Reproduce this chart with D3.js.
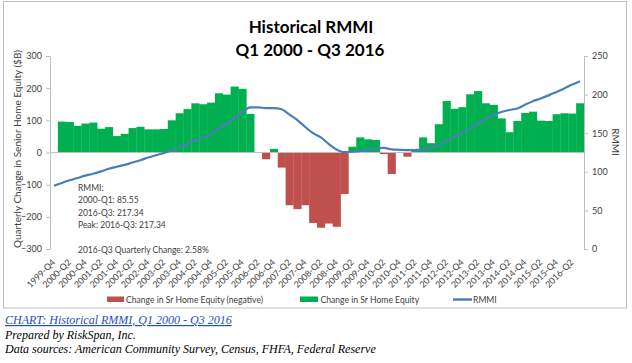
<!DOCTYPE html>
<html>
<head>
<meta charset="utf-8">
<script src="https://cdn.jsdelivr.net/npm/d3@7"></script>
<style>
body { margin: 0; background: #fff; }
svg { display: block; }
</style>
</head>
<body>
<svg id="chart" width="632" height="363"></svg>
<script>
// quarters on the category axis
const quarters = [
    "1999-Q4",
    "2000-Q1", "2000-Q2", "2000-Q3", "2000-Q4",
    "2001-Q1", "2001-Q2", "2001-Q3", "2001-Q4",
    "2002-Q1", "2002-Q2", "2002-Q3", "2002-Q4",
    "2003-Q1", "2003-Q2", "2003-Q3", "2003-Q4",
    "2004-Q1", "2004-Q2", "2004-Q3", "2004-Q4",
    "2005-Q1", "2005-Q2", "2005-Q3", "2005-Q4",
    "2006-Q1", "2006-Q2", "2006-Q3", "2006-Q4",
    "2007-Q1", "2007-Q2", "2007-Q3", "2007-Q4",
    "2008-Q1", "2008-Q2", "2008-Q3", "2008-Q4",
    "2009-Q1", "2009-Q2", "2009-Q3", "2009-Q4",
    "2010-Q1", "2010-Q2", "2010-Q3", "2010-Q4",
    "2011-Q1", "2011-Q2", "2011-Q3", "2011-Q4",
    "2012-Q1", "2012-Q2", "2012-Q3", "2012-Q4",
    "2013-Q1", "2013-Q2", "2013-Q3", "2013-Q4",
    "2014-Q1", "2014-Q2", "2014-Q3", "2014-Q4",
    "2015-Q1", "2015-Q2", "2015-Q3", "2015-Q4",
    "2016-Q1", "2016-Q2", "2016-Q3"
];

// quarterly change in senior home equity, $B (none for the first quarter)
const equityChange = [
    null,
    96, 95, 83, 90,
    93, 74, 79, 51,
    58, 76, 80, 72,
    72, 73, 100, 122,
    135, 153, 150, 155,
    184, 180, 205, 198,
    120, 1, -21, 11,
    -47, -164, -176, -164,
    -219, -234, -221, -231,
    -129, 18, 47, 41,
    39, -5, -67, -1,
    -13, 11, 47, 29,
    88, 160, 136, 141,
    181, 191, 153, 148,
    106, 63, 98, 123,
    127, 99, 98, 119,
    122, 121, 153
];

// RMMI index
const rmmi = [
    82,
    85.55, 89, 92, 95,
    97.5, 100.5, 104, 106.5,
    109, 112, 115, 118.5,
    121.5, 124.5, 128, 132,
    136, 140.5, 144, 149,
    156, 162, 170, 177.5,
    183.5, 183.5, 182.5, 182.5,
    181, 174, 167, 158,
    150, 144.5, 136, 129,
    125.5, 126, 127, 129,
    130.5, 131, 129, 128.5,
    128, 128, 129, 131,
    134.5, 140, 145, 150,
    156.5, 162.5, 168.5, 174,
    177.5, 180, 182, 187,
    191.5, 195, 199, 203.5,
    208, 213, 217.34
];

const leftTicks = [-300, -200, -100, 0, 100, 200, 300];
const rightTicks = [0, 50, 100, 150, 200, 250];
const notes = ["RMMI:", "2000-Q1: 85.55", "2016-Q3: 217.34", "Peak: 2016-Q3: 217.34", "", "2016-Q3 Quarterly Change: 2.58%"];
const footer = [
    "CHART: Historical RMMI, Q1 2000 - Q3 2016",
    "Prepared by RiskSpan, Inc.",
    "Data sources: American Community Survey, Census, FHFA, Federal Reserve"
];

const font = "Lato, 'Open Sans', sans-serif";
const grey = "#bfbfbf";
const textColour = "#404040";
const green = "#00b050";
const red = "#c0504d";
const blue = "#4a7ebb";

// plot area
const plot = {left: 50, right: 584, top: 56, bottom: 249};

const svg = d3.select("#chart");

// outer chart border
svg.append("rect")
    .attr("x", 3.5).attr("y", 1.5)
    .attr("width", 623).attr("height", 306.5)
    .attr("fill", "none")
    .attr("stroke", grey);

const x = d3.scaleBand()
    .domain(quarters)
    .range([plot.left, plot.right])
    .padding(0);

const yLeft = d3.scaleLinear().domain([-300, 300]).range([plot.bottom, plot.top]);
const yRight = d3.scaleLinear().domain([0, 250]).range([plot.bottom, plot.top]);

const barData = quarters.map((q, i) => ({q: q, v: equityChange[i]})).filter(d => d.v !== null);

// bars: green for gains, red for losses
svg.append("g")
    .selectAll("rect")
    .data(barData)
    .enter()
    .append("rect")
    .attr("x", d => x(d.q))
    .attr("width", x.bandwidth() + 0.3)
    .attr("y", d => yLeft(Math.max(0, d.v)))
    .attr("height", d => Math.abs(yLeft(d.v) - yLeft(0)))
    .attr("fill", d => d.v < 0 ? red : green);

// zero line (category axis)
svg.append("line")
    .attr("x1", plot.left).attr("x2", plot.right)
    .attr("y1", yLeft(0)).attr("y2", yLeft(0))
    .attr("stroke", grey);

// left axis
const leftAxis = svg.append("g")
    .attr("transform", `translate(${plot.left},0)`)
    .call(d3.axisLeft(yLeft).tickValues(leftTicks).tickSize(4).tickSizeOuter(0).tickPadding(4));

// right axis
const rightAxis = svg.append("g")
    .attr("transform", `translate(${plot.right},0)`)
    .call(d3.axisRight(yRight).tickValues(rightTicks).tickSize(4).tickSizeOuter(0).tickPadding(4));

[leftAxis, rightAxis].forEach(g => {
    g.select(".domain").attr("stroke", grey);
    g.selectAll(".tick line").attr("stroke", grey);
    g.selectAll(".tick text")
        .attr("fill", textColour)
        .style("font-family", font)
        .style("font-size", "9px");
});

// category labels, every second quarter, rotated
svg.append("g")
    .selectAll("text")
    .data(quarters.filter((q, i) => i % 2 === 0))
    .enter()
    .append("text")
    .attr("transform", d => `translate(${x(d) + x.bandwidth() / 2 + 2},${plot.bottom + 14}) rotate(-45)`)
    .attr("text-anchor", "end")
    .attr("fill", textColour)
    .style("font-family", font)
    .style("font-size", "8.8px")
    .text(d => d);

// RMMI line
const line = d3.line()
    .x((d, i) => x(quarters[i]) + x.bandwidth() / 2)
    .y(d => yRight(d))
    .curve(d3.curveMonotoneX);

svg.append("path")
    .datum(rmmi)
    .attr("d", line)
    .attr("fill", "none")
    .attr("stroke", blue)
    .attr("stroke-width", 2.2);

// titles
svg.append("text")
    .attr("x", 311).attr("y", 33)
    .attr("text-anchor", "middle")
    .style("font-family", font).style("font-size", "17px").style("font-weight", "bold")
    .text("Historical RMMI");

svg.append("text")
    .attr("x", 310).attr("y", 55.5)
    .attr("text-anchor", "middle")
    .style("font-family", font).style("font-size", "17px").style("font-weight", "bold")
    .text("Q1 2000 - Q3 2016");

svg.append("text")
    .attr("transform", "translate(21,149) rotate(-90)")
    .attr("text-anchor", "middle")
    .attr("fill", textColour)
    .style("font-family", font).style("font-size", "10px")
    .text("Quarterly Change in Senior Home Equity ($B)");

svg.append("text")
    .attr("transform", "translate(612,142) rotate(90)")
    .attr("text-anchor", "middle")
    .attr("fill", textColour)
    .style("font-family", font).style("font-size", "10px")
    .text("RMMI");

// annotation block
svg.append("g")
    .selectAll("text")
    .data(notes)
    .enter()
    .append("text")
    .attr("x", 78)
    .attr("y", (d, i) => 190.5 + i * 12.5)
    .attr("fill", textColour)
    .style("font-family", font).style("font-size", "8.5px")
    .text(d => d);

// legend
const legend = svg.append("g")
    .style("font-family", font).style("font-size", "8.6px");

legend.append("rect").attr("x", 107).attr("y", 296.5).attr("width", 17).attr("height", 5.5).attr("fill", red);
legend.append("text").attr("x", 126).attr("y", 302.5).attr("fill", textColour).text("Change in Sr Home Equity (negative)");
legend.append("rect").attr("x", 300).attr("y", 296.5).attr("width", 18).attr("height", 5.5).attr("fill", green);
legend.append("text").attr("x", 320.5).attr("y", 302.5).attr("fill", textColour).text("Change in Sr Home Equity");
legend.append("line").attr("x1", 453).attr("x2", 472).attr("y1", 299.5).attr("y2", 299.5).attr("stroke", blue).attr("stroke-width", 2.5);
legend.append("text").attr("x", 473).attr("y", 302.5).attr("fill", textColour).text("RMMI");

// footer below chart
const foot = svg.append("g")
    .style("font-family", "'Liberation Serif', 'Times New Roman', serif")
    .style("font-style", "italic")
    .style("font-size", "12px");

foot.selectAll("text")
    .data(footer)
    .enter()
    .append("text")
    .attr("x", 5)
    .attr("y", (d, i) => 324 + i * 14.7)
    .attr("fill", (d, i) => i === 0 ? "#1f4fbf" : "#000")
    .style("text-decoration", (d, i) => i === 0 ? "underline" : "none")
    .text(d => d);
</script>
</body>
</html>
